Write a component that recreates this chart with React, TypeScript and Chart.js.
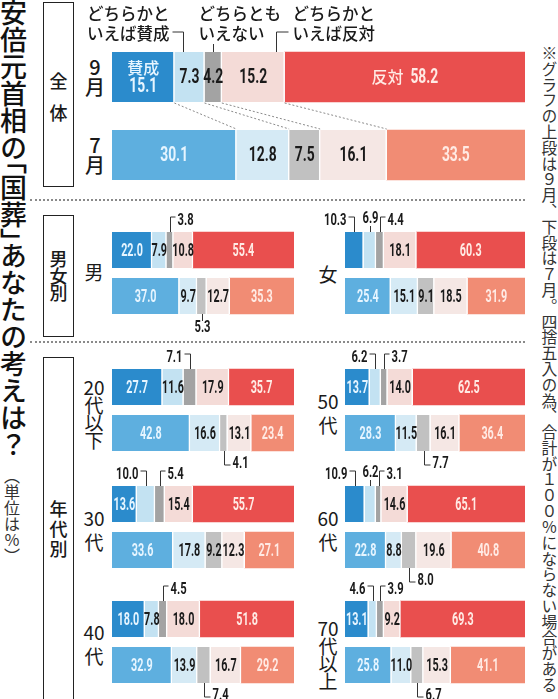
import { useEffect, useRef } from "react";
import { Chart, registerables } from "chart.js";

Chart.register(...registerables);

// 全体 / 男女別 / 年代別 (左列・右列の順)
const groups = ["全体", "男", "女", "20代以下", "50代", "30代", "60代", "40代", "70代以上"];
const months = ["9月", "7月"];
const answers = ["賛成", "どちらかといえば賛成", "どちらともいえない", "どちらかといえば反対", "反対"];

// 9月調査
const approveSep = [15.1, 22.0, 10.3, 27.7, 13.7, 13.6, 10.9, 18.0, 13.1];
const leanApproveSep = [7.3, 7.9, 6.9, 11.6, 6.2, 10.0, 6.2, 7.8, 4.6];
const neutralSep = [4.2, 3.8, 4.4, 7.1, 3.7, 5.4, 3.1, 4.5, 3.9];
const leanOpposeSep = [15.2, 10.8, 18.1, 17.9, 14.0, 15.4, 14.6, 18.0, 9.2];
const opposeSep = [58.2, 55.4, 60.3, 35.7, 62.5, 55.7, 65.1, 51.8, 69.3];

// 7月調査
const approveJul = [30.1, 37.0, 25.4, 42.8, 28.3, 33.6, 22.8, 32.9, 25.8];
const leanApproveJul = [12.8, 9.7, 15.1, 16.6, 11.5, 17.8, 8.8, 13.9, 11.0];
const neutralJul = [7.5, 5.3, 9.1, 4.1, 7.7, 9.2, 8.0, 7.4, 6.7];
const leanOpposeJul = [16.1, 12.7, 18.5, 13.1, 16.1, 12.3, 19.6, 16.7, 15.3];
const opposeJul = [33.5, 35.3, 31.9, 23.4, 36.4, 27.1, 40.8, 29.2, 41.1];

const sepSeries = [approveSep, leanApproveSep, neutralSep, leanOpposeSep, opposeSep];
const julSeries = [approveJul, leanApproveJul, neutralJul, leanOpposeJul, opposeJul];

const colorsSep = ["#2b8bcc", "#c3e2f2", "#a3a3a3", "#f4dbd7", "#e94f4e"];
const colorsJul = ["#5eafdf", "#d5eaf5", "#c1c1c1", "#f5e7e4", "#f18c74"];

// panel geometry (page pixels)
const layouts = [
  { left: 112, width: 413, top: 52, bar: 50, gap: 28, padT: 38, padB: 8, padL: 30, font: 21, sx: 0.66 },
  { left: 112, width: 182, top: 232 },
  { left: 345, width: 180, top: 232 },
  { left: 112, width: 182, top: 369 },
  { left: 345, width: 180, top: 369 },
  { left: 112, width: 182, top: 486 },
  { left: 345, width: 180, top: 486 },
  { left: 112, width: 182, top: 601 },
  { left: 345, width: 180, top: 601 },
];

type Kind = "left" | "right" | "center";
type Callout = { row: number; ds: number; kind: Kind };

const callouts: Callout[][] = [
  [],
  [{ row: 0, ds: 2, kind: "right" }, { row: 1, ds: 2, kind: "center" }],
  [{ row: 0, ds: 0, kind: "left" }, { row: 0, ds: 1, kind: "center" }, { row: 0, ds: 2, kind: "right" }],
  [{ row: 0, ds: 2, kind: "left" }, { row: 1, ds: 2, kind: "right" }],
  [{ row: 0, ds: 1, kind: "left" }, { row: 0, ds: 2, kind: "right" }, { row: 1, ds: 2, kind: "right" }],
  [{ row: 0, ds: 1, kind: "left" }, { row: 0, ds: 2, kind: "right" }],
  [{ row: 0, ds: 0, kind: "left" }, { row: 0, ds: 1, kind: "center" }, { row: 0, ds: 2, kind: "right" }, { row: 1, ds: 2, kind: "right" }],
  [{ row: 0, ds: 2, kind: "right" }, { row: 1, ds: 2, kind: "right" }],
  [{ row: 0, ds: 1, kind: "left" }, { row: 0, ds: 2, kind: "right" }, { row: 1, ds: 2, kind: "right" }],
];

// header leaders on the 全体 chart
const headers = [
  { ds: 1, frac: 0.3, kind: "left" },
  { ds: 2, frac: 0.5, kind: "below" },
  { ds: 3, frac: 0.87, kind: "right" },
];

const NUM_FONT = 'Roboto, "DejaVu Sans", sans-serif';
const JP_FONT = '"Noto Sans CJK JP", sans-serif';

function drawNum(ctx: CanvasRenderingContext2D, text: string, x: number, y: number, align: string, size: number, color: string, sx: number) {
  ctx.save();
  ctx.font = `bold ${size}px ${NUM_FONT}`;
  ctx.fillStyle = color;
  ctx.textBaseline = "middle";
  ctx.textAlign = "left";
  const w = ctx.measureText(text).width * sx;
  const x0 = align === "center" ? x - w / 2 : align === "right" ? x - w : x;
  ctx.translate(x0, y);
  ctx.scale(sx, 1);
  ctx.fillText(text, 0, 0);
  ctx.restore();
  return w;
}

function numWidth(ctx: CanvasRenderingContext2D, text: string, size: number, sx: number) {
  ctx.save();
  ctx.font = `bold ${size}px ${NUM_FONT}`;
  const w = ctx.measureText(text).width * sx;
  ctx.restore();
  return w;
}

function line(ctx: CanvasRenderingContext2D, pts: number[][]) {
  ctx.beginPath();
  ctx.moveTo(pts[0][0], pts[0][1]);
  for (let i = 1; i < pts.length; i++) ctx.lineTo(pts[i][0], pts[i][1]);
  ctx.stroke();
}

const CALL_SIZE = 16;
const CALL_SX = 0.7;

function Panel({ index }: { index: number }) {
  const canvasRef = useRef<HTMLCanvasElement>(null);
  const lay: any = { bar: 36, gap: 10, padT: 26, padB: 26, padL: 30, font: 18, sx: 0.6, ...layouts[index] };
  const padR = 6;
  const cw = lay.width + lay.padL + padR;
  const ch = 2 * (lay.bar + lay.gap) + lay.padT + lay.padB;
  const cLeft = lay.left - lay.padL;
  const cTop = lay.top - lay.gap / 2 - lay.padT;

  useEffect(() => {
    if (!canvasRef.current) return;
    const isTotal = index === 0;
    const outside = callouts[index];

    const labelPlugin = {
      id: "segLabels",
      afterDatasetsDraw(chart: any) {
        const ctx: CanvasRenderingContext2D = chart.ctx;
        // dotted connectors 9月 -> 7月
        if (isTotal) {
          ctx.save();
          ctx.strokeStyle = "#8a8a8a";
          ctx.lineWidth = 1;
          ctx.setLineDash([2, 2]);
          for (let i = 0; i < 4; i++) {
            const a = chart.getDatasetMeta(i).data[0];
            const b = chart.getDatasetMeta(i).data[1];
            line(ctx, [[a.x, a.y + a.height / 2 + 1], [b.x, b.y - b.height / 2 - 1]]);
          }
          ctx.restore();
        }

        // inside labels
        for (let ds = 0; ds < 5; ds++) {
          const meta = chart.getDatasetMeta(ds);
          for (let row = 0; row < 2; row++) {
            if (outside.some((c) => c.ds === ds && c.row === row)) continue;
            const el = meta.data[row];
            const v = chart.data.datasets[ds].data[row] as number;
            const cx = (el.x + el.base) / 2;
            const color = ds === 0 ? "#e6f5ff" : ds === 4 ? "#ffeae4" : "#1a1a1a";
            const txt = v.toFixed(1);
            if (isTotal && row === 0 && ds === 0) {
              ctx.save();
              ctx.font = `500 16px ${JP_FONT}`;
              ctx.fillStyle = color;
              ctx.textAlign = "center";
              ctx.textBaseline = "middle";
              ctx.fillText(answers[0], cx, el.y - 9);
              ctx.restore();
              drawNum(ctx, txt, cx, el.y + 10, "center", lay.font, color, lay.sx);
            } else if (isTotal && row === 0 && ds === 4) {
              ctx.save();
              ctx.font = `500 16px ${JP_FONT}`;
              const w1 = ctx.measureText(answers[4]).width;
              const w2 = numWidth(ctx, txt, lay.font, lay.sx);
              const x0 = cx - (w1 + 7 + w2) / 2;
              ctx.fillStyle = color;
              ctx.textAlign = "left";
              ctx.textBaseline = "middle";
              ctx.fillText(answers[4], x0, el.y);
              ctx.restore();
              drawNum(ctx, txt, x0 + w1 + 7, el.y + 1, "left", lay.font, color, lay.sx);
            } else {
              drawNum(ctx, txt, cx, el.y + 1, "center", lay.font, color, lay.sx);
            }
          }
        }

        // outside callouts
        ctx.save();
        ctx.strokeStyle = "#333";
        ctx.lineWidth = 1;
        for (const c of outside) {
          const el = chart.getDatasetMeta(c.ds).data[c.row];
          const v = chart.data.datasets[c.ds].data[c.row] as number;
          const txt = v.toFixed(1);
          const cx = Math.round((el.x + el.base) / 2) + 0.5;
          const top = el.y - el.height / 2;
          const bottom = el.y + el.height / 2;
          if (c.row === 0) {
            const ty = top - 11;
            if (c.kind === "center") {
              drawNum(ctx, txt, cx, ty - 2, "center", CALL_SIZE, "#1a1a1a", CALL_SX);
              line(ctx, [[cx, ty + 5], [cx, top]]);
            } else if (c.kind === "left") {
              line(ctx, [[cx, top], [cx, ty - 4], [cx - 6, ty - 4]]);
              drawNum(ctx, txt, cx - 8, ty, "right", CALL_SIZE, "#1a1a1a", CALL_SX);
            } else {
              line(ctx, [[cx, top], [cx, ty - 4], [cx + 5, ty - 4]]);
              drawNum(ctx, txt, cx + 7, ty, "left", CALL_SIZE, "#1a1a1a", CALL_SX);
            }
          } else {
            const ty = bottom + 13;
            if (c.kind === "center") {
              line(ctx, [[cx, bottom], [cx, ty - 6]]);
              drawNum(ctx, txt, cx, ty + 1, "center", CALL_SIZE, "#1a1a1a", CALL_SX);
            } else {
              line(ctx, [[cx, bottom], [cx, ty + 1], [cx + 6, ty + 1]]);
              drawNum(ctx, txt, cx + 8, ty, "left", CALL_SIZE, "#1a1a1a", CALL_SX);
            }
          }
        }
        ctx.restore();

        // category headers with leaders
        if (isTotal) {
          ctx.save();
          ctx.strokeStyle = "#333";
          ctx.lineWidth = 1;
          ctx.font = `500 16.5px ${JP_FONT}`;
          ctx.fillStyle = "#1a1a1a";
          ctx.textBaseline = "middle";
          ctx.textAlign = "left";
          for (const h of headers) {
            const el = chart.getDatasetMeta(h.ds).data[0];
            const top = el.y - el.height / 2;
            const lx = Math.round(el.base + h.frac * (el.x - el.base)) + 0.5;
            const name = answers[h.ds];
            const l1 = name.slice(0, 5);
            const l2 = name.slice(5);
            const y1 = 14;
            const y2 = 34;
            if (h.kind === "left") {
              const right = lx - 14;
              const w2 = ctx.measureText(l2).width;
              ctx.fillText(l1, right - w2, y1);
              ctx.fillText(l2, right - w2, y2);
              line(ctx, [[right + 3, y2 - 2], [lx, y2 - 2], [lx, top]]);
            } else if (h.kind === "below") {
              ctx.fillText(l1, lx - 15, y1);
              ctx.fillText(l2, lx - 15, y2);
              line(ctx, [[lx, y2 + 10], [lx, top]]);
            } else {
              ctx.fillText(l1, lx + 16, y1);
              ctx.fillText(l2, lx + 16, y2);
              line(ctx, [[lx, top], [lx, y2 - 2], [lx + 12, y2 - 2]]);
            }
          }
          ctx.restore();
        }
      },
    };

    const chart = new Chart(canvasRef.current, {
      type: "bar",
      data: {
        labels: months,
        datasets: answers.map((name, i) => ({
          label: name,
          data: [sepSeries[i][index], julSeries[i][index]],
          backgroundColor: [colorsSep[i], colorsJul[i]],
          borderColor: "#ffffff",
          borderWidth: i < 4 ? { top: 0, bottom: 0, left: 0, right: 1.5 } : 0,
          borderSkipped: false,
          barThickness: lay.bar,
        })),
      },
      options: {
        indexAxis: "y",
        responsive: false,
        animation: false,
        events: [],
        layout: { padding: { left: lay.padL, right: padR, top: lay.padT, bottom: lay.padB } },
        scales: {
          x: { stacked: true, display: false, min: 0, max: 100 },
          y: { stacked: true, display: false },
        },
        plugins: { legend: { display: false }, tooltip: { enabled: false } },
      },
      plugins: [labelPlugin],
    } as any);

    return () => {
      chart.destroy();
    };
  }, [index]);

  return (
    <canvas
      ref={canvasRef}
      width={cw}
      height={ch}
      style={{ position: "absolute", left: cLeft, top: cTop, width: cw, height: ch }}
    />
  );
}

function Stack({ parts, cx, top, lh, size, weight = 400 }: { parts: string[]; cx: number; top: number; lh: number; size: number; weight?: number }) {
  return (
    <div style={{ position: "absolute", left: cx - 16, top, width: 32, textAlign: "center", fontSize: size, fontWeight: weight }}>
      {parts.map((p, i) => (
        <div key={i} style={{ height: lh, lineHeight: `${lh}px`, whiteSpace: "nowrap" }}>
          {p}
        </div>
      ))}
    </div>
  );
}

function Box({ top, height, parts, textTop, lh }: { top: number; height: number; parts: string[]; textTop: number; lh: number }) {
  return (
    <>
      <div style={{ position: "absolute", left: 43, top, width: 31, height, border: "1.5px solid #222", boxSizing: "border-box" }} />
      <Stack parts={parts} cx={58.5} top={textTop} lh={lh} size={18} weight={500} />
    </>
  );
}

const vertical: any = { position: "absolute", writingMode: "vertical-rl", lineHeight: 1, whiteSpace: "nowrap" };

export default function App() {
  return (
    <div
      style={{
        position: "absolute",
        left: 0,
        top: 0,
        width: 558,
        height: 699,
        overflow: "hidden",
        background: "#fff",
        color: "#1a1a1a",
        fontFamily: JP_FONT,
      }}
    >
      <div style={{ ...vertical, left: 0, top: -1, fontSize: 27, fontWeight: 500, color: "#111", fontFeatureSettings: '"vhal" 1' }}>
        安倍元首相の「国葬」あなたの考えは？
      </div>
      <div style={{ ...vertical, left: 4, top: 468, fontSize: 16, color: "#333" }}>（単位は％）</div>
      <div style={{ ...vertical, left: 541, top: 45, fontSize: 15.8, color: "#333" }}>
        ※グラフの上段は９月、下段は７月。四捨五入の為、合計が１００％にならない場合がある
      </div>

      <Box top={2} height={185} parts={["全", "体"]} textTop={64} lh={32} />
      <Box top={215} height={122} parts={["男", "女", "別"]} textTop={250} lh={17} />
      <Box top={357} height={346} parts={["年", "代", "別"]} textTop={498} lh={20} />

      <div style={{ position: "absolute", left: 30, top: 199, width: 495, height: 0, borderTop: "2px dotted #8a8a8a" }} />
      <div style={{ position: "absolute", left: 30, top: 341, width: 495, height: 0, borderTop: "2px dotted #8a8a8a" }} />

      <Stack parts={["9", "月"]} cx={95} top={57} lh={20} size={20} weight={500} />
      <Stack parts={["7", "月"]} cx={95} top={135} lh={20} size={20} weight={500} />

      <Stack parts={[groups[1]]} cx={94} top={262} lh={20} size={19} />
      <Stack parts={[groups[2]]} cx={328} top={264} lh={20} size={19} />
      <Stack parts={["20", "代", "以", "下"]} cx={94} top={378} lh={17.5} size={19} />
      <Stack parts={["50", "代"]} cx={328} top={389} lh={24} size={19} />
      <Stack parts={["30", "代"]} cx={94} top={506} lh={24} size={19} />
      <Stack parts={["60", "代"]} cx={328} top={506} lh={24} size={19} />
      <Stack parts={["40", "代"]} cx={94} top={620} lh={24} size={19} />
      <Stack parts={["70", "代", "以", "上"]} cx={328} top={619} lh={17.5} size={19} />

      {groups.map((g, i) => (
        <Panel key={g} index={i} />
      ))}
    </div>
  );
}
